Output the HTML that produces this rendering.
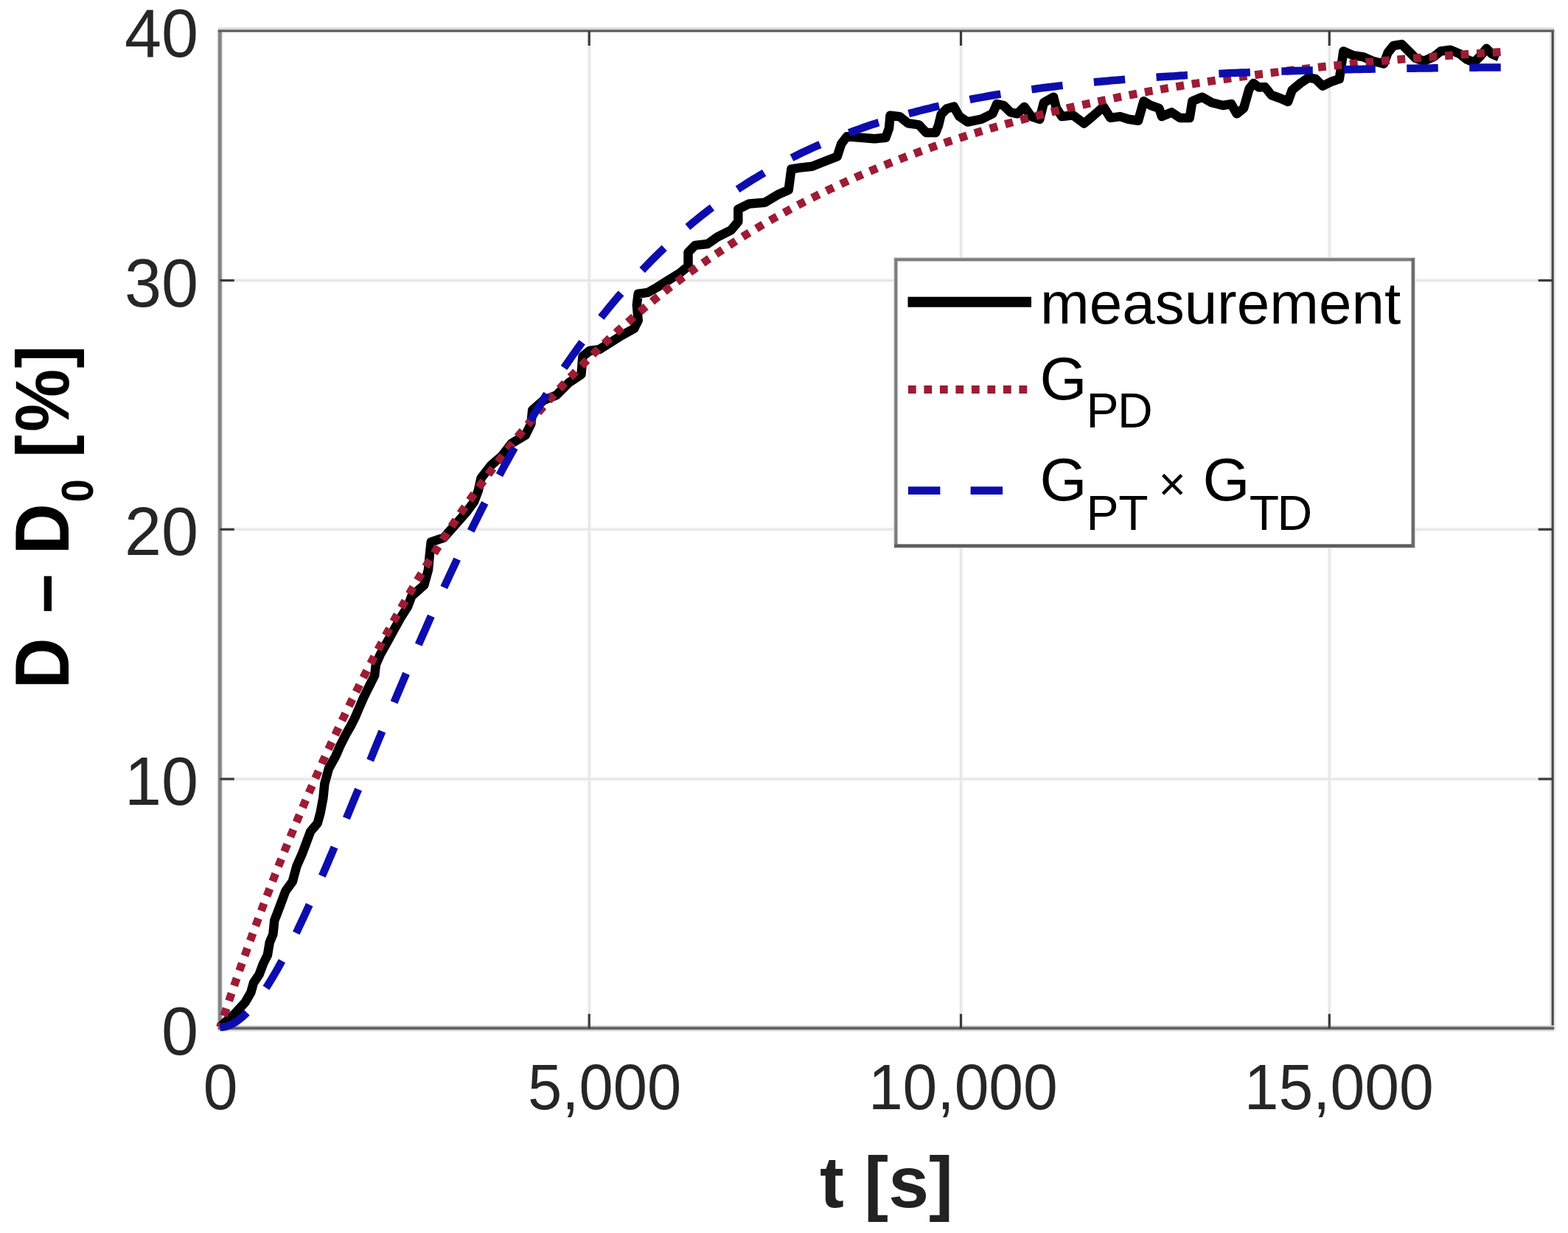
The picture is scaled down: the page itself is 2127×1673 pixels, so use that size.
<!DOCTYPE html>
<html lang="en"><head><meta charset="utf-8"><title>D - D0 [%] over t [s]</title>
<style>html,body{margin:0;padding:0;background:#fff;}body{width:2127px;height:1673px;overflow:hidden;}svg{display:block;}text{font-family:'Liberation Sans', Arial, Helvetica, sans-serif;}</style>
</head><body>
<svg xmlns="http://www.w3.org/2000/svg" width="2127" height="1673" viewBox="0 0 2127 1673">
<rect x="0" y="0" width="2127" height="1673" fill="#ffffff"/>
<g fill="none">
<line x1="799.6" y1="42.0" x2="799.6" y2="1395.2" stroke="#f8f8f8" stroke-width="6.5"/>
<line x1="1303.9" y1="42.0" x2="1303.9" y2="1395.2" stroke="#f8f8f8" stroke-width="6.5"/>
<line x1="1803.7" y1="42.0" x2="1803.7" y2="1395.2" stroke="#f8f8f8" stroke-width="6.5"/>
<line x1="298.3" y1="380.5" x2="2106.2" y2="380.5" stroke="#f8f8f8" stroke-width="6.5"/>
<line x1="298.3" y1="718.3" x2="2106.2" y2="718.3" stroke="#f8f8f8" stroke-width="6.5"/>
<line x1="298.3" y1="1057.0" x2="2106.2" y2="1057.0" stroke="#f8f8f8" stroke-width="6.5"/>
<line x1="799.2" y1="42.0" x2="799.2" y2="1395.2" stroke="#e6e6e6" stroke-width="2.6"/>
<line x1="1303.5" y1="42.0" x2="1303.5" y2="1395.2" stroke="#e6e6e6" stroke-width="2.6"/>
<line x1="1803.3" y1="42.0" x2="1803.3" y2="1395.2" stroke="#e6e6e6" stroke-width="2.6"/>
<line x1="298.3" y1="380.5" x2="2106.2" y2="380.5" stroke="#e5e5e5" stroke-width="2.6"/>
<line x1="298.3" y1="718.3" x2="2106.2" y2="718.3" stroke="#e5e5e5" stroke-width="2.6"/>
<line x1="298.3" y1="1057.0" x2="2106.2" y2="1057.0" stroke="#e5e5e5" stroke-width="2.6"/>
</g>
<g fill="none" stroke-linecap="butt">
<line x1="298.3" y1="40.5" x2="298.3" y2="1397.2" stroke="#d8d8d8" stroke-width="7.4"/>
<line x1="298.3" y1="40.5" x2="298.3" y2="1397.2" stroke="#848484" stroke-width="4.6"/>
<line x1="2106.2" y1="40.5" x2="2106.2" y2="1397.2" stroke="#e9e9e9" stroke-width="8.5"/>
<line x1="2106.2" y1="40.5" x2="2106.2" y2="1397.2" stroke="#4a4a4a" stroke-width="3.2"/>
<line x1="295.8" y1="40.4" x2="2108.2" y2="40.4" stroke="#d6d6d6" stroke-width="5.6"/>
<line x1="295.8" y1="42.1" x2="2108.2" y2="42.1" stroke="#565656" stroke-width="3.0"/>
<line x1="295.8" y1="1395.2" x2="2108.2" y2="1395.2" stroke="#d4d4d4" stroke-width="8"/>
<line x1="295.8" y1="1395.2" x2="2108.2" y2="1395.2" stroke="#636363" stroke-width="3.8"/>
</g>
<g stroke="#3a3a3a" stroke-width="3.2" fill="none">
<line x1="799.2" y1="42.0" x2="799.2" y2="62.0"/>
<line x1="799.2" y1="1395.2" x2="799.2" y2="1375.7"/>
<line x1="1303.5" y1="42.0" x2="1303.5" y2="62.0"/>
<line x1="1303.5" y1="1395.2" x2="1303.5" y2="1375.7"/>
<line x1="1803.3" y1="42.0" x2="1803.3" y2="62.0"/>
<line x1="1803.3" y1="1395.2" x2="1803.3" y2="1375.7"/>
<line x1="298.3" y1="380.5" x2="317.8" y2="380.5"/>
<line x1="2106.2" y1="380.5" x2="2086.7" y2="380.5"/>
<line x1="298.3" y1="718.3" x2="317.8" y2="718.3"/>
<line x1="2106.2" y1="718.3" x2="2086.7" y2="718.3"/>
<line x1="298.3" y1="1057.0" x2="317.8" y2="1057.0"/>
<line x1="2106.2" y1="1057.0" x2="2086.7" y2="1057.0"/>
</g>
<polyline points="298.5,1393.8 304.5,1388.0 318.0,1376.0 332.7,1359.9 340.3,1346.7 344.0,1333.5 351.6,1322.2 357.2,1307.2 362.9,1295.9 365.7,1278.9 370.4,1267.6 372.3,1248.8 376.0,1239.4 381.7,1224.3 387.3,1209.2 396.8,1196.0 402.4,1175.3 409.9,1158.4 415.6,1143.3 421.2,1128.2 430.7,1116.9 434.4,1103.8 438.4,1082.5 440.3,1063.7 445.9,1042.9 455.3,1026.0 461.0,1012.8 468.5,997.7 476.0,984.6 481.7,973.3 487.3,960.1 493.0,946.9 500.5,931.8 508.1,916.8 509.9,901.7 515.6,888.5 525.0,871.6 534.4,854.6 543.8,837.7 553.3,822.6 558.4,808.9 575.3,793.8 581.0,773.1 582.9,752.4 584.7,735.4 601.7,729.8 616.8,712.8 631.8,695.9 643.1,680.8 648.8,665.7 652.5,648.8 665.7,631.8 680.8,618.6 694.0,601.7 712.8,590.4 720.3,575.3 722.2,556.5 737.3,543.3 754.6,536.3 771.6,519.3 788.5,508.0 790.4,483.5 799.8,476.0 813.0,474.1 828.1,464.7 843.1,455.3 860.1,445.9 865.7,434.6 863.8,413.8 865.7,398.8 878.9,396.9 892.1,389.4 907.2,379.9 922.2,370.5 933.5,361.1 933.5,342.3 942.9,332.9 959.9,331.0 973.1,321.6 991.9,312.1 1001.3,300.8 1001.3,283.9 1016.4,276.4 1037.7,274.7 1056.5,263.4 1069.7,257.7 1073.4,229.5 1084.7,227.6 1101.7,225.7 1120.5,218.2 1135.6,212.5 1141.3,195.0 1148.8,185.2 1167.6,186.7 1186.4,188.3 1201.5,186.7 1206.0,174.0 1207.5,156.7 1220.3,158.2 1231.6,167.2 1246.6,169.4 1256.4,180.0 1269.2,180.0 1273.0,170.2 1276.7,155.1 1284.2,147.6 1293.8,144.7 1301.3,157.9 1312.6,165.5 1331.5,161.7 1346.5,154.2 1352.2,141.0 1361.3,143.0 1370.7,152.4 1380.1,154.3 1389.5,144.9 1399.0,158.1 1410.3,161.8 1415.9,139.2 1429.1,131.7 1432.9,146.8 1440.4,158.1 1455.5,156.2 1470.5,167.5 1481.8,158.1 1496.9,144.9 1506.3,159.9 1519.5,158.1 1530.8,161.8 1544.0,163.7 1551.5,137.3 1560.9,143.0 1572.2,146.8 1576.0,158.1 1589.2,152.4 1600.5,159.9 1613.7,159.9 1617.4,137.3 1630.6,131.7 1643.8,139.2 1658.9,143.0 1670.2,141.1 1677.7,154.3 1687.1,146.8 1694.6,120.4 1700.3,113.0 1707.8,118.5 1716.0,118.0 1724.6,129.0 1737.0,133.5 1747.1,138.0 1752.7,122.3 1764.0,112.9 1775.3,105.3 1784.7,107.2 1794.2,116.6 1805.5,111.0 1816.8,107.2 1820.5,82.7 1822.4,69.5 1835.6,75.2 1848.8,77.1 1862.0,82.7 1877.0,86.5 1882.7,71.4 1890.2,62.0 1901.5,60.1 1910.9,69.5 1920.3,79.0 1931.6,82.7 1944.8,77.1 1954.2,69.5 1967.4,67.7 1980.6,73.3 1990.0,80.8 1999.4,84.6 2008.9,75.2 2016.4,65.8 2023.9,73.3 2033.3,77.1" fill="none" stroke="#000000" stroke-width="12.5" stroke-linejoin="round" stroke-linecap="butt"/>
<polyline points="298.5,1393.8 302.9,1380.8 307.2,1367.8 311.6,1355.1 315.9,1342.4 320.3,1329.8 324.6,1317.4 329.0,1305.1 333.4,1292.9 337.7,1280.9 342.1,1268.9 346.4,1257.1 350.8,1245.4 355.1,1233.7 359.5,1222.3 363.9,1210.9 368.2,1199.6 372.6,1188.4 376.9,1177.4 381.3,1166.4 385.6,1155.6 390.0,1144.8 394.4,1134.2 398.7,1123.7 403.1,1113.2 407.4,1102.9 411.8,1092.7 416.1,1082.5 420.5,1072.5 424.9,1062.5 429.2,1052.7 433.6,1042.9 437.9,1033.3 442.3,1023.7 446.6,1014.3 451.0,1004.9 455.4,995.6 459.7,986.4 464.1,977.3 468.4,968.3 472.8,959.3 477.1,950.5 481.5,941.7 485.9,933.0 490.2,924.4 494.6,915.9 498.9,907.5 503.3,899.1 507.6,890.9 512.0,882.7 516.4,874.6 520.7,866.6 525.1,858.6 529.4,850.7 533.8,842.9 538.1,835.2 542.5,827.5 546.9,820.0 551.2,812.5 555.6,805.0 559.9,797.7 564.3,790.4 568.6,783.2 573.0,776.0 577.4,768.9 581.7,761.9 586.1,755.0 590.4,748.1 594.8,741.3 599.2,734.5 603.5,727.9 607.9,721.3 612.2,714.7 616.6,708.2 620.9,701.8 625.3,695.4 629.7,689.1 634.0,682.9 638.4,676.7 642.7,670.6 647.1,664.5 651.4,658.5 655.8,652.6 660.2,646.7 664.5,640.8 668.9,635.1 673.2,629.3 677.6,623.7 681.9,618.1 686.3,612.5 690.7,607.0 695.0,601.6 699.4,596.2 703.7,590.8 708.1,585.5 712.4,580.3 716.8,575.1 721.2,570.0 725.5,564.9 729.9,559.8 734.2,554.8 738.6,549.9 742.9,545.0 747.3,540.1 751.7,535.3 756.0,530.6 760.4,525.9 764.7,521.2 769.1,516.6 773.4,512.0 777.8,507.5 782.2,503.0 786.5,498.5 790.9,494.1 795.2,489.8 799.6,485.4 803.9,481.2 808.3,476.9 812.7,472.7 817.0,468.6 821.4,464.5 825.7,460.4 830.1,456.4 834.4,452.4 838.8,448.4 843.2,444.5 847.5,440.6 851.9,436.8 856.2,433.0 860.6,429.2 864.9,425.5 869.3,421.8 873.7,418.1 878.0,414.5 882.4,410.9 886.7,407.3 891.1,403.8 895.4,400.3 899.8,396.9 904.2,393.4 908.5,390.0 912.9,386.7 917.2,383.4 921.6,380.1 925.9,376.8 930.3,373.6 934.7,370.4 939.0,367.2 943.4,364.1 947.7,361.0 952.1,357.9 956.4,354.9 960.8,351.8 965.2,348.9 969.5,345.9 973.9,343.0 978.2,340.1 982.6,337.2 986.9,334.3 991.3,331.5 995.7,328.7 1000.0,326.0 1004.4,323.2 1008.7,320.5 1013.1,317.8 1017.4,315.2 1021.8,312.5 1026.2,309.9 1030.5,307.3 1034.9,304.8 1039.2,302.3 1043.6,299.7 1047.9,297.3 1052.3,294.8 1056.7,292.4 1061.0,289.9 1065.4,287.6 1069.7,285.2 1074.1,282.8 1078.4,280.5 1082.8,278.2 1087.2,275.9 1091.5,273.7 1095.9,271.5 1100.2,269.2 1104.6,267.1 1108.9,264.9 1113.3,262.7 1117.7,260.6 1122.0,258.5 1126.4,256.4 1130.7,254.4 1135.1,252.3 1139.5,250.3 1143.8,248.3 1148.2,246.3 1152.5,244.3 1156.9,242.4 1161.2,240.4 1165.6,238.5 1170.0,236.6 1174.3,234.7 1178.7,232.9 1183.0,231.1 1187.4,229.2 1191.7,227.4 1196.1,225.6 1200.5,223.9 1204.8,222.1 1209.2,220.4 1213.5,218.7 1217.9,217.0 1222.2,215.3 1226.6,213.6 1231.0,211.9 1235.3,210.3 1239.7,208.7 1244.0,207.1 1248.4,205.5 1252.7,203.9 1257.1,202.4 1261.5,200.8 1265.8,199.3 1270.2,197.8 1274.5,196.3 1278.9,194.8 1283.2,193.3 1287.6,191.8 1292.0,190.4 1296.3,189.0 1300.7,187.6 1305.0,186.2 1309.4,184.8 1313.7,183.4 1318.1,182.0 1322.5,180.7 1326.8,179.3 1331.2,178.0 1335.5,176.7 1339.9,175.4 1344.2,174.1 1348.6,172.9 1353.0,171.6 1357.3,170.3 1361.7,169.1 1366.0,167.9 1370.4,166.7 1374.7,165.5 1379.1,164.3 1383.5,163.1 1387.8,161.9 1392.2,160.8 1396.5,159.6 1400.9,158.5 1405.2,157.4 1409.6,156.3 1414.0,155.2 1418.3,154.1 1422.7,153.0 1427.0,151.9 1431.4,150.9 1435.7,149.8 1440.1,148.8 1444.5,147.8 1448.8,146.7 1453.2,145.7 1457.5,144.7 1461.9,143.7 1466.2,142.8 1470.6,141.8 1475.0,140.8 1479.3,139.9 1483.7,138.9 1488.0,138.0 1492.4,137.1 1496.7,136.2 1501.1,135.3 1505.5,134.4 1509.8,133.5 1514.2,132.6 1518.5,131.7 1522.9,130.9 1527.2,130.0 1531.6,129.2 1536.0,128.3 1540.3,127.5 1544.7,126.7 1549.0,125.8 1553.4,125.0 1557.7,124.2 1562.1,123.4 1566.5,122.7 1570.8,121.9 1575.2,121.1 1579.5,120.4 1583.9,119.6 1588.2,118.9 1592.6,118.1 1597.0,117.4 1601.3,116.7 1605.7,115.9 1610.0,115.2 1614.4,114.5 1618.7,113.8 1623.1,113.1 1627.5,112.5 1631.8,111.8 1636.2,111.1 1640.5,110.4 1644.9,109.8 1649.2,109.1 1653.6,108.5 1658.0,107.8 1662.3,107.2 1666.7,106.6 1671.0,106.0 1675.4,105.3 1679.8,104.7 1684.1,104.1 1688.5,103.5 1692.8,102.9 1697.2,102.4 1701.5,101.8 1705.9,101.2 1710.3,100.6 1714.6,100.1 1719.0,99.5 1723.3,99.0 1727.7,98.4 1732.0,97.9 1736.4,97.3 1740.8,96.8 1745.1,96.3 1749.5,95.7 1753.8,95.2 1758.2,94.7 1762.5,94.2 1766.9,93.7 1771.3,93.2 1775.6,92.7 1780.0,92.2 1784.3,91.8 1788.7,91.3 1793.0,90.8 1797.4,90.3 1801.8,89.9 1806.1,89.4 1810.5,89.0 1814.8,88.5 1819.2,88.1 1823.5,87.6 1827.9,87.2 1832.3,86.7 1836.6,86.3 1841.0,85.9 1845.3,85.5 1849.7,85.0 1854.0,84.6 1858.4,84.2 1862.8,83.8 1867.1,83.4 1871.5,83.0 1875.8,82.6 1880.2,82.2 1884.5,81.8 1888.9,81.5 1893.3,81.1 1897.6,80.7 1902.0,80.3 1906.3,80.0 1910.7,79.6 1915.0,79.2 1919.4,78.9 1923.8,78.5 1928.1,78.2 1932.5,77.8 1936.8,77.5 1941.2,77.2 1945.5,76.8 1949.9,76.5 1954.3,76.2 1958.6,75.8 1963.0,75.5 1967.3,75.2 1971.7,74.9 1976.0,74.5 1980.4,74.2 1984.8,73.9 1989.1,73.6 1993.5,73.3 1997.8,73.0 2002.2,72.7 2006.5,72.4 2010.9,72.1 2015.3,71.8 2019.6,71.6 2024.0,71.3 2028.3,71.0 2032.7,70.7 2037.0,70.4" fill="none" stroke="#9c1c33" stroke-width="11" stroke-dasharray="10.8 10.8" stroke-dashoffset="5.4"/>
<polyline points="298.5,1393.8 302.9,1393.5 307.2,1392.6 311.6,1391.0 315.9,1389.0 320.3,1386.4 324.6,1383.2 329.0,1379.6 333.4,1375.5 337.7,1371.0 342.1,1366.1 346.4,1360.8 350.8,1355.0 355.1,1349.0 359.5,1342.6 363.9,1335.8 368.2,1328.8 372.6,1321.4 376.9,1313.8 381.3,1305.9 385.6,1297.8 390.0,1289.5 394.4,1280.9 398.7,1272.2 403.1,1263.2 407.4,1254.1 411.8,1244.8 416.1,1235.3 420.5,1225.8 424.9,1216.0 429.2,1206.2 433.6,1196.3 437.9,1186.2 442.3,1176.1 446.6,1165.9 451.0,1155.6 455.4,1145.2 459.7,1134.8 464.1,1124.3 468.4,1113.8 472.8,1103.2 477.1,1092.7 481.5,1082.0 485.9,1071.4 490.2,1060.8 494.6,1050.2 498.9,1039.5 503.3,1028.9 507.6,1018.3 512.0,1007.6 516.4,997.0 520.7,986.5 525.1,975.9 529.4,965.4 533.8,954.9 538.1,944.5 542.5,934.1 546.9,923.8 551.2,913.5 555.6,903.2 559.9,893.0 564.3,882.9 568.6,872.8 573.0,862.7 577.4,852.8 581.7,842.9 586.1,833.1 590.4,823.3 594.8,813.6 599.2,804.0 603.5,794.4 607.9,785.0 612.2,775.6 616.6,766.3 620.9,757.0 625.3,747.9 629.7,738.8 634.0,729.8 638.4,720.9 642.7,712.1 647.1,703.3 651.4,694.6 655.8,686.1 660.2,677.6 664.5,669.2 668.9,660.8 673.2,652.6 677.6,644.5 681.9,636.4 686.3,628.4 690.7,620.5 695.0,612.7 699.4,605.0 703.7,597.4 708.1,589.8 712.4,582.4 716.8,575.0 721.2,567.7 725.5,560.5 729.9,553.4 734.2,546.4 738.6,539.5 742.9,532.6 747.3,525.8 751.7,519.1 756.0,512.5 760.4,506.0 764.7,499.6 769.1,493.2 773.4,487.0 777.8,480.8 782.2,474.6 786.5,468.6 790.9,462.7 795.2,456.8 799.6,451.0 803.9,445.3 808.3,439.6 812.7,434.1 817.0,428.6 821.4,423.2 825.7,417.8 830.1,412.5 834.4,407.4 838.8,402.2 843.2,397.2 847.5,392.2 851.9,387.3 856.2,382.5 860.6,377.7 864.9,373.0 869.3,368.3 873.7,363.8 878.0,359.3 882.4,354.8 886.7,350.5 891.1,346.2 895.4,341.9 899.8,337.7 904.2,333.6 908.5,329.6 912.9,325.6 917.2,321.6 921.6,317.8 925.9,313.9 930.3,310.2 934.7,306.5 939.0,302.8 943.4,299.2 947.7,295.7 952.1,292.2 956.4,288.8 960.8,285.4 965.2,282.1 969.5,278.8 973.9,275.6 978.2,272.4 982.6,269.3 986.9,266.2 991.3,263.2 995.7,260.2 1000.0,257.3 1004.4,254.4 1008.7,251.6 1013.1,248.8 1017.4,246.0 1021.8,243.3 1026.2,240.7 1030.5,238.0 1034.9,235.5 1039.2,232.9 1043.6,230.4 1047.9,228.0 1052.3,225.6 1056.7,223.2 1061.0,220.9 1065.4,218.6 1069.7,216.3 1074.1,214.1 1078.4,211.9 1082.8,209.8 1087.2,207.6 1091.5,205.6 1095.9,203.5 1100.2,201.5 1104.6,199.5 1108.9,197.6 1113.3,195.7 1117.7,193.8 1122.0,191.9 1126.4,190.1 1130.7,188.3 1135.1,186.6 1139.5,184.8 1143.8,183.1 1148.2,181.5 1152.5,179.8 1156.9,178.2 1161.2,176.6 1165.6,175.1 1170.0,173.5 1174.3,172.0 1178.7,170.5 1183.0,169.1 1187.4,167.7 1191.7,166.2 1196.1,164.9 1200.5,163.5 1204.8,162.2 1209.2,160.9 1213.5,159.6 1217.9,158.3 1222.2,157.1 1226.6,155.8 1231.0,154.6 1235.3,153.4 1239.7,152.3 1244.0,151.1 1248.4,150.0 1252.7,148.9 1257.1,147.8 1261.5,146.8 1265.8,145.7 1270.2,144.7 1274.5,143.7 1278.9,142.7 1283.2,141.7 1287.6,140.8 1292.0,139.8 1296.3,138.9 1300.7,138.0 1305.0,137.1 1309.4,136.2 1313.7,135.4 1318.1,134.5 1322.5,133.7 1326.8,132.9 1331.2,132.1 1335.5,131.3 1339.9,130.5 1344.2,129.8 1348.6,129.0 1353.0,128.3 1357.3,127.6 1361.7,126.9 1366.0,126.2 1370.4,125.5 1374.7,124.8 1379.1,124.2 1383.5,123.5 1387.8,122.9 1392.2,122.3 1396.5,121.7 1400.9,121.1 1405.2,120.5 1409.6,119.9 1414.0,119.3 1418.3,118.8 1422.7,118.2 1427.0,117.7 1431.4,117.2 1435.7,116.6 1440.1,116.1 1444.5,115.6 1448.8,115.1 1453.2,114.7 1457.5,114.2 1461.9,113.7 1466.2,113.3 1470.6,112.8 1475.0,112.4 1479.3,112.0 1483.7,111.5 1488.0,111.1 1492.4,110.7 1496.7,110.3 1501.1,109.9 1505.5,109.5 1509.8,109.1 1514.2,108.8 1518.5,108.4 1522.9,108.1 1527.2,107.7 1531.6,107.4 1536.0,107.0 1540.3,106.7 1544.7,106.4 1549.0,106.0 1553.4,105.7 1557.7,105.4 1562.1,105.1 1566.5,104.8 1570.8,104.5 1575.2,104.2 1579.5,104.0 1583.9,103.7 1588.2,103.4 1592.6,103.2 1597.0,102.9 1601.3,102.6 1605.7,102.4 1610.0,102.1 1614.4,101.9 1618.7,101.7 1623.1,101.4 1627.5,101.2 1631.8,101.0 1636.2,100.8 1640.5,100.5 1644.9,100.3 1649.2,100.1 1653.6,99.9 1658.0,99.7 1662.3,99.5 1666.7,99.3 1671.0,99.1 1675.4,99.0 1679.8,98.8 1684.1,98.6 1688.5,98.4 1692.8,98.3 1697.2,98.1 1701.5,97.9 1705.9,97.8 1710.3,97.6 1714.6,97.4 1719.0,97.3 1723.3,97.1 1727.7,97.0 1732.0,96.8 1736.4,96.7 1740.8,96.6 1745.1,96.4 1749.5,96.3 1753.8,96.2 1758.2,96.0 1762.5,95.9 1766.9,95.8 1771.3,95.7 1775.6,95.5 1780.0,95.4 1784.3,95.3 1788.7,95.2 1793.0,95.1 1797.4,95.0 1801.8,94.9 1806.1,94.8 1810.5,94.7 1814.8,94.6 1819.2,94.5 1823.5,94.4 1827.9,94.3 1832.3,94.2 1836.6,94.1 1841.0,94.0 1845.3,93.9 1849.7,93.8 1854.0,93.7 1858.4,93.7 1862.8,93.6 1867.1,93.5 1871.5,93.4 1875.8,93.3 1880.2,93.3 1884.5,93.2 1888.9,93.1 1893.3,93.1 1897.6,93.0 1902.0,92.9 1906.3,92.9 1910.7,92.8 1915.0,92.7 1919.4,92.7 1923.8,92.6 1928.1,92.5 1932.5,92.5 1936.8,92.4 1941.2,92.4 1945.5,92.3 1949.9,92.3 1954.3,92.2 1958.6,92.1 1963.0,92.1 1967.3,92.0 1971.7,92.0 1976.0,91.9 1980.4,91.9 1984.8,91.8 1989.1,91.8 1993.5,91.8 1997.8,91.7 2002.2,91.7 2006.5,91.6 2010.9,91.6 2015.3,91.5 2019.6,91.5 2024.0,91.5 2028.3,91.4 2032.7,91.4 2037.0,91.4" fill="none" stroke="#0d0dae" stroke-width="10.5" stroke-dasharray="42.5 42.5"/>
<rect x="1215.4" y="352.3" width="701.3999999999999" height="388.40000000000003" fill="#ffffff" stroke="#dddddd" stroke-width="7"/>
<rect x="1215.4" y="352.3" width="701.3999999999999" height="388.40000000000003" fill="#ffffff" stroke="#7c7c7c" stroke-width="4.2"/>
<line x1="1213.3000000000002" y1="740.7" x2="1918.8999999999999" y2="740.7" stroke="#5c5c5c" stroke-width="4.2"/>
<line x1="1916.8" y1="350.2" x2="1916.8" y2="742.8000000000001" stroke="#6c6c6c" stroke-width="4.2"/>
<line x1="1231.5" y1="409.8" x2="1399" y2="409.8" stroke="#000" stroke-width="14"/>
<line x1="1231.9" y1="528.4" x2="1399" y2="528.4" stroke="#9c1c33" stroke-width="11" stroke-dasharray="10.8 10.7"/>
<line x1="1231.9" y1="665.6" x2="1399" y2="665.6" stroke="#0d0dae" stroke-width="10.8" stroke-dasharray="43.5 41.2"/>
<g fill="#000000" font-size="80px">
<text id="lg1" x="1411" y="439.2">measurement</text>
<text id="lg2" y="541.8"><tspan x="1410.5" font-size="82.2px">G</tspan><tspan font-size="66px" x="1473.5 1516" y="580">PD</tspan></text>
<text id="lg3" y="678.7"><tspan x="1410.5" font-size="82.2px">G</tspan><tspan font-size="66px" x="1473.5 1517.3" y="718.8">PT</tspan><tspan font-size="64px" x="1553.6 1571.4 1609" y="678.5"> × </tspan><tspan x="1631.5" y="678.7" font-size="82.2px">G</tspan><tspan font-size="66px" x="1694.7 1732.6" y="718.8">TD</tspan></text>
</g>
<g fill="#262626" font-size="90px" text-anchor="end">
<text class="yt" transform="translate(269.1,77.2) scale(1,1.035)">40</text>
<text class="yt" transform="translate(269.1,416.3) scale(1,1.035)">30</text>
<text class="yt" transform="translate(269.1,753.0) scale(1,1.035)">20</text>
<text class="yt" transform="translate(269.1,1092.2) scale(1,1.035)">10</text>
<text class="yt" transform="translate(269.1,1430.5) scale(1,1.035)">0</text>
</g>
<g fill="#262626" font-size="84px">
<text class="xt" transform="translate(275.7,1505.3) scale(1,1.04)">0</text>
<text class="xt" transform="translate(716.1,1505.3) scale(0.99,1.04)">5,000</text>
<text class="xt" transform="translate(1177.9,1505.3) scale(1,1.04)">10,000</text>
<text class="xt" transform="translate(1687.7,1505.3) scale(1,1.04)">15,000</text>
</g>
<text id="xl" x="1112.1" y="1637.7" font-size="98.6px" font-weight="bold" fill="#222222">t [s]</text>
<text id="yl" transform="translate(93.2,935) rotate(-90) scale(0.97,1.05)" font-size="98.7px" font-weight="bold" fill="#000000" y="0"><tspan x="0.3">D </tspan><tspan x="106.1">– </tspan><tspan x="188.2">D</tspan><tspan x="261.3" dy="31.4" font-size="58px">0 </tspan><tspan x="323.7" dy="-31.4" font-size="96px">[</tspan><tspan x="359.7">%</tspan><tspan x="448.8" font-size="96px">]</tspan></text>
</svg>
</body></html>
